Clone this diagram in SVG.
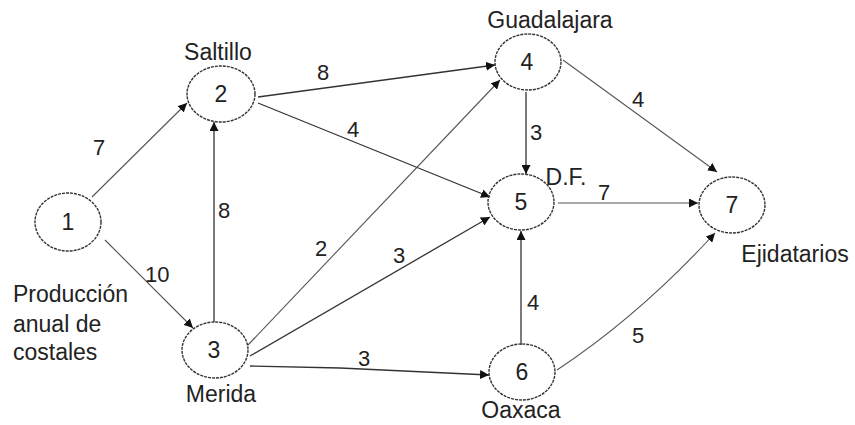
<svg xmlns="http://www.w3.org/2000/svg" width="855" height="425" viewBox="0 0 855 425">
<defs>
<style>
.node ellipse{fill:none;stroke:#333;stroke-width:1.4;stroke-dasharray:3 1}
.node text{font-family:"Liberation Sans",Arial,sans-serif;font-size:23px;fill:#222;text-anchor:middle}
.lbl{font-family:"Liberation Sans",Arial,sans-serif;font-size:23px;fill:#222}
.w{font-family:"Liberation Sans",Arial,sans-serif;font-size:22px;fill:#222}
.e{fill:none;stroke:#333;stroke-width:1.3;marker-end:url(#ah)}
.lt{stroke:#555;stroke-width:1.1}
</style>
<marker id="ah" viewBox="0 0 10 10" refX="10" refY="5" markerWidth="9" markerHeight="9" markerUnits="userSpaceOnUse" orient="auto">
<path d="M0,0 L10,5 L0,10 z" fill="#111"/>
</marker>
</defs>
<rect width="855" height="425" fill="#fff"/>
<g id="connectors">
<line class="e lt" x1="92" y1="197" x2="187" y2="103"/>
<line class="e lt" x1="105" y1="240" x2="193" y2="328"/>
<line class="e" x1="214" y1="322" x2="214" y2="122"/>
<line class="e" x1="258" y1="97" x2="495" y2="65"/>
<line class="e" x1="258" y1="103" x2="490" y2="197"/>
<line class="e lt" x1="248" y1="345" x2="500" y2="80"/>
<line class="e" x1="250" y1="356" x2="490" y2="217"/>
<path class="e" d="M250,366 L340,368 L489,375"/>
<line class="e" x1="526" y1="92" x2="526" y2="174"/>
<line class="e lt" x1="563" y1="60" x2="717" y2="172"/>
<line class="e lt" x1="558" y1="203" x2="698" y2="203"/>
<line class="e" x1="521" y1="345" x2="521" y2="231"/>
<path class="e lt" d="M557,370 Q640,315 715,233"/>
</g>
<g id="edge-labels">
<text class="w" x="93" y="155">7</text>
<text class="w" x="145" y="282">10</text>
<text class="w" x="218" y="218">8</text>
<text class="w" x="317" y="80">8</text>
<text class="w" x="347" y="137">4</text>
<text class="w" x="315" y="256">2</text>
<text class="w" x="393" y="263">3</text>
<text class="w" x="358" y="366">3</text>
<text class="w" x="530" y="140">3</text>
<text class="w" x="632" y="107">4</text>
<text class="w" x="598" y="200">7</text>
<text class="w" x="527" y="310">4</text>
<text class="w" x="632" y="343">5</text>
</g>
<g id="n1" class="node"><ellipse cx="68" cy="222" rx="33" ry="29"/><text x="68" y="230">1</text></g>
<g id="n2" class="node"><ellipse cx="221" cy="94" rx="34" ry="28"/><text x="221" y="102">2</text><text x="218" y="60">Saltillo</text></g>
<g id="n3" class="node"><ellipse cx="215" cy="350" rx="33" ry="28"/><text x="214" y="358">3</text><text x="221" y="402">Merida</text></g>
<g id="n4" class="node"><ellipse cx="528" cy="62" rx="33" ry="28"/><text x="527" y="70">4</text><text x="550" y="28">Guadalajara</text></g>
<g id="n5" class="node"><ellipse cx="521" cy="202" rx="33" ry="28"/><text x="521" y="210">5</text><text x="566" y="185">D.F.</text></g>
<g id="n6" class="node"><ellipse cx="522" cy="372" rx="33" ry="28"/><text x="522" y="380">6</text><text x="521" y="418">Oaxaca</text></g>
<g id="n7" class="node"><ellipse cx="732" cy="205" rx="33" ry="28"/><text x="732" y="213">7</text><text x="795" y="262">Ejidatarios</text></g>
<g id="source-note">
<text class="lbl" x="13" y="302">Producción</text>
<text class="lbl" x="13" y="332">anual de</text>
<text class="lbl" x="13" y="360">costales</text>
</g>
</svg>
